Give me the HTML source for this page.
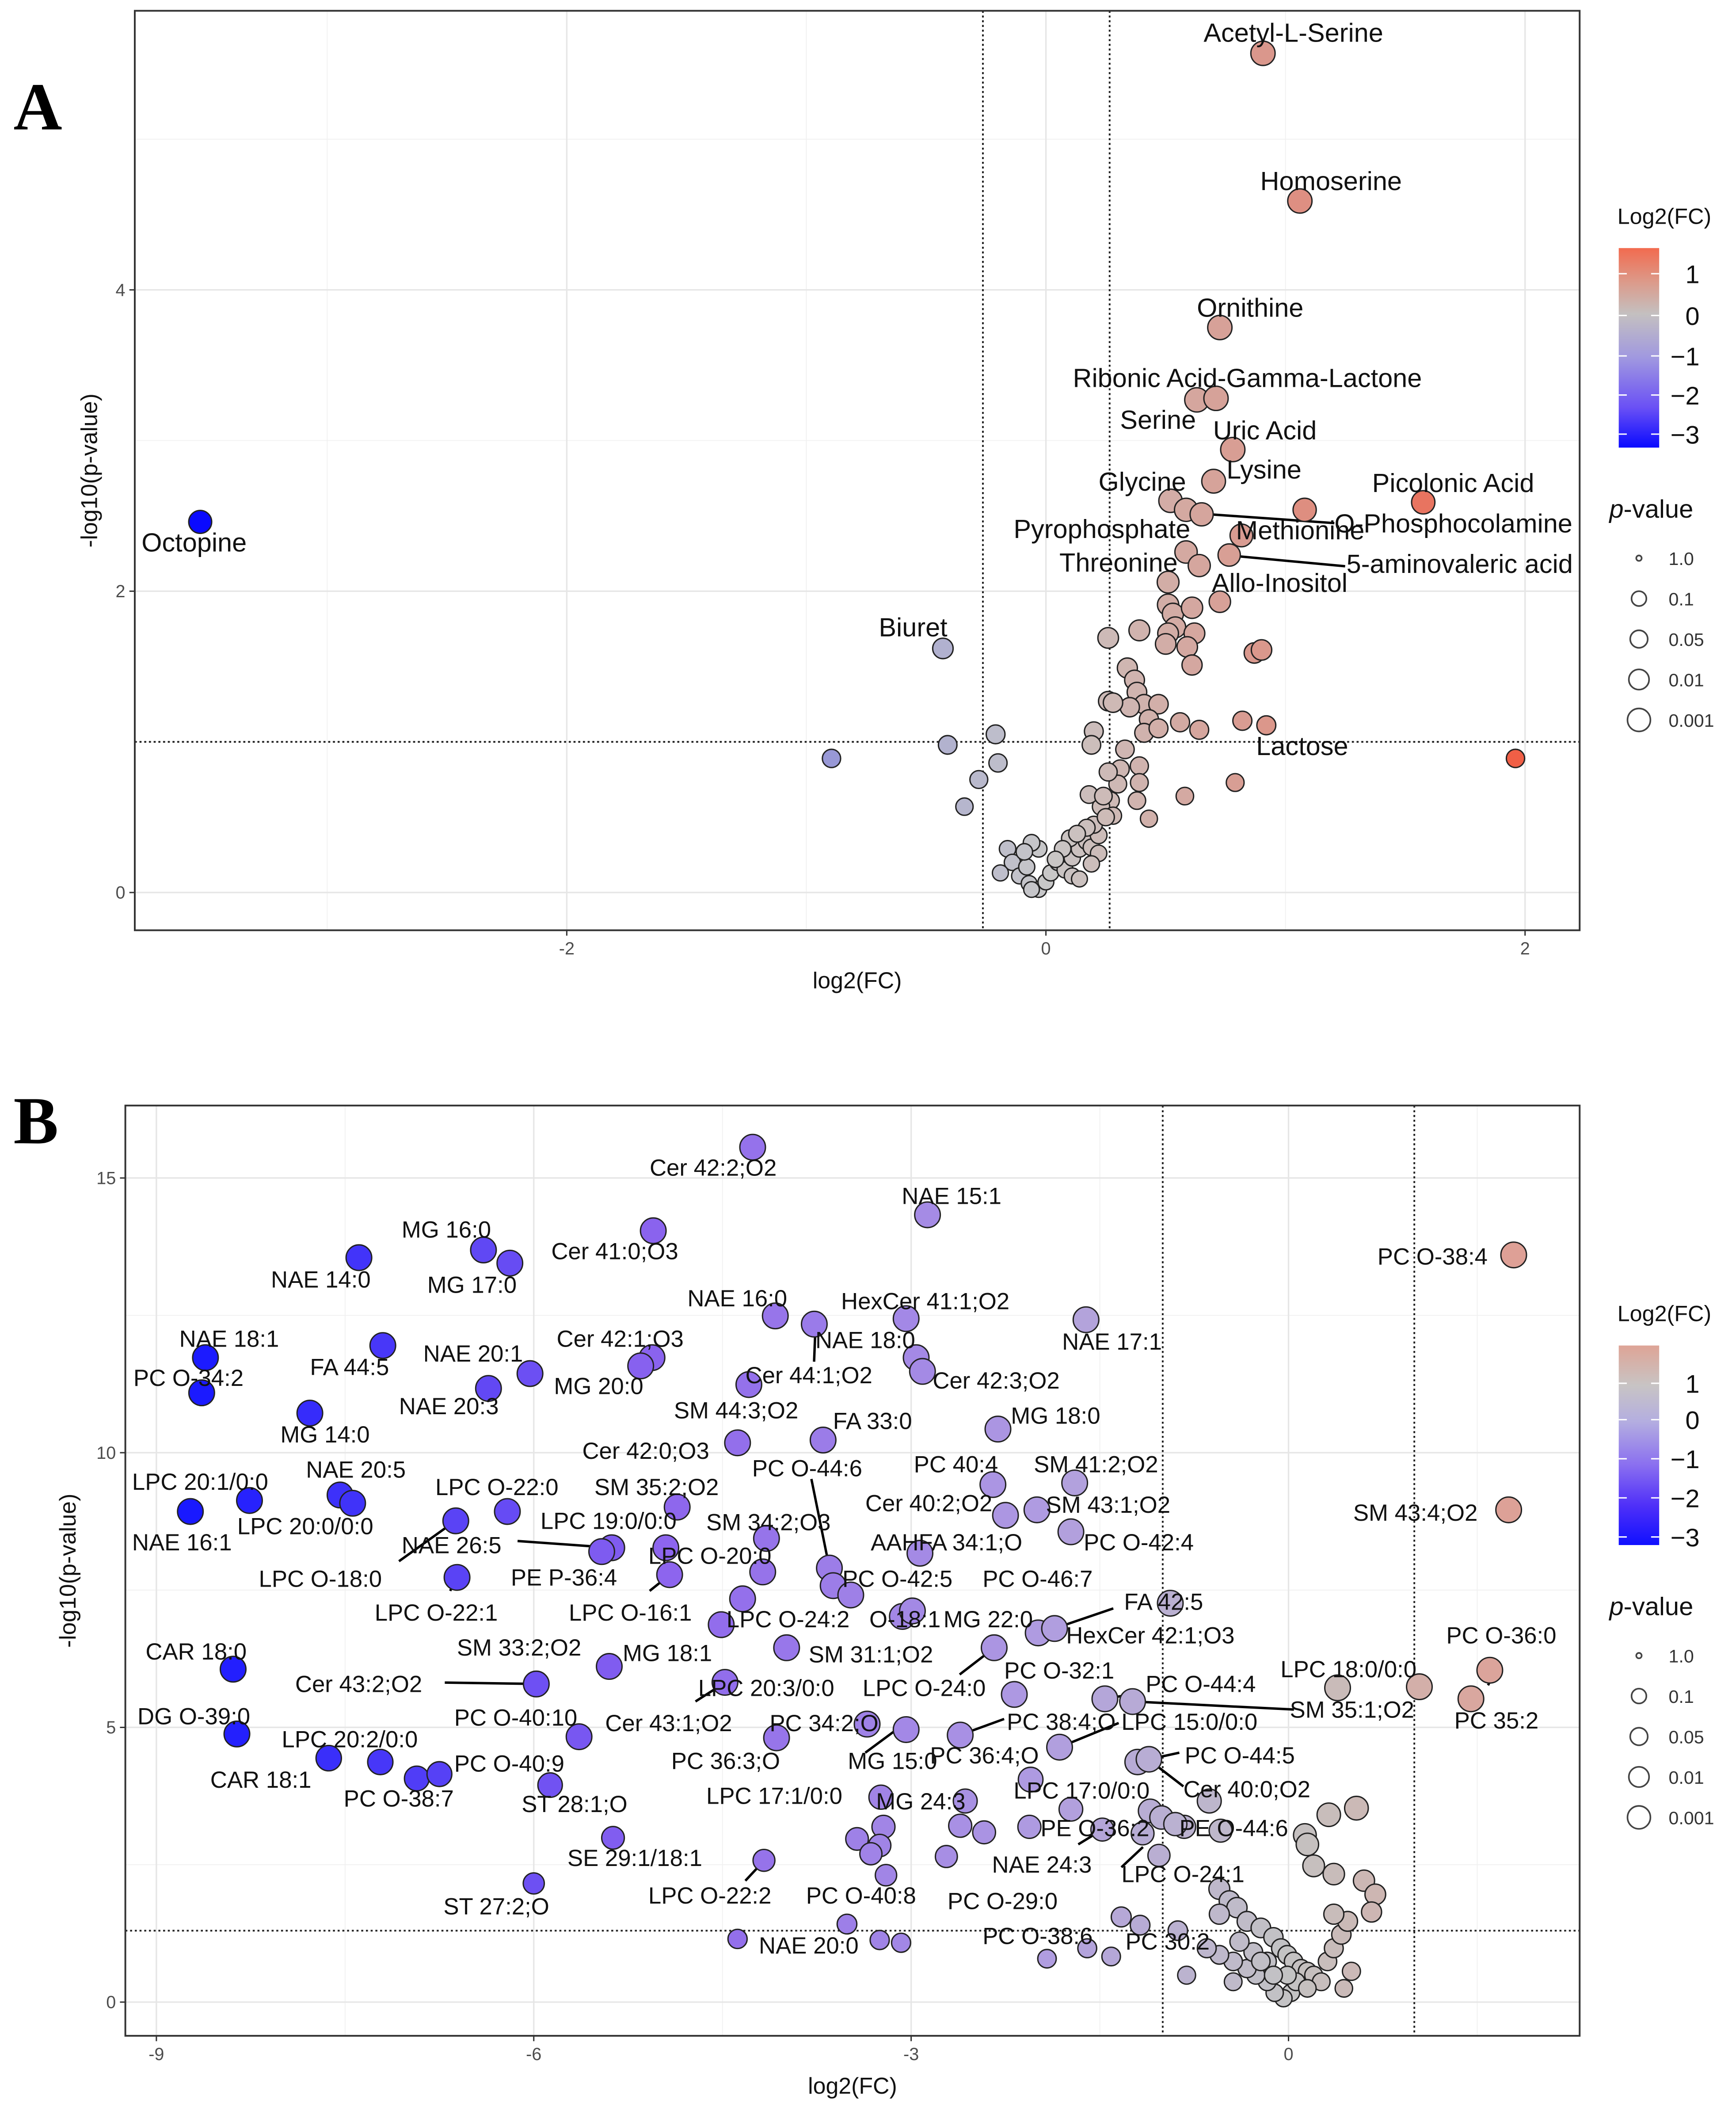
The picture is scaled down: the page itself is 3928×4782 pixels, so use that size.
<!DOCTYPE html>
<html><head><meta charset="utf-8"><style>
html,body{margin:0;padding:0;background:#fff}
svg{display:block}
text{font-family:"Liberation Sans",sans-serif}
</style></head><body>
<svg id="fig" width="3928" height="4782" viewBox="0 0 1288 1568" preserveAspectRatio="none" xmlns="http://www.w3.org/2000/svg">
<rect width="1288" height="1568" fill="#fff"/>
<g id="ga"></g>
<g id="gb"></g>
</svg>
<script>
// ---------- Panel A data ----------
const aX=[0.906,1.06,0.726,0.63,0.71,0.78,0.70,1.575,0.52,0.585,0.65,-3.53,1.08,0.816,0.585,0.64,0.765,0.726,-0.43,0.92,1.96,-0.895,
0.51,0.51,0.53,0.61,0.54,0.62,0.51,0.59,0.50,0.61,0.39,0.26,0.34,0.37,0.38,0.41,0.47,0.35,0.26,0.28,0.43,0.41,0.47,0.56,0.64,0.82,0.87,0.90,0.20,0.33,0.31,0.39,0.39,0.30,0.27,0.23,0.18,0.38,0.43,0.58,0.79,0.19,0.26,0.28,
-0.41,-0.21,-0.20,-0.28,-0.34,-0.16,-0.14,-0.11,-0.08,-0.07,-0.03,0.0,0.02,0.05,0.08,0.11,0.14,0.17,0.19,0.22,0.20,0.25,0.17,0.10,0.07,0.04,-0.03,-0.06,-0.09,-0.19,-0.06,0.11,0.13,0.22,0.24,0.14,0.19];
const aY=[5.57,4.59,3.75,3.27,3.28,2.94,2.73,2.59,2.6,2.54,2.51,2.46,2.54,2.37,2.26,2.17,2.24,1.93,1.62,1.11,0.89,0.89,
2.06,1.91,1.85,1.89,1.76,1.72,1.72,1.63,1.65,1.51,1.74,1.69,1.49,1.41,1.33,1.25,1.25,1.23,1.27,1.26,1.15,1.06,1.09,1.13,1.08,1.14,1.59,1.61,1.07,0.95,0.82,0.84,0.73,0.72,0.61,0.57,0.65,0.61,0.49,0.64,0.73,0.98,0.80,0.51,
0.98,1.05,0.86,0.75,0.57,0.29,0.20,0.11,0.17,0.06,0.02,0.07,0.13,0.20,0.15,0.23,0.29,0.34,0.30,0.38,0.45,0.50,0.43,0.36,0.29,0.22,0.29,0.33,0.27,0.13,0.02,0.11,0.39,0.26,0.64,0.09,0.19];
const aXTicks=[-2,0,2];
const aYTicks=[0,2,4];
const aLabels=[["Acetyl-L-Serine",893,31],["Homoserine",935,141],["Ornithine",888,235],["Ribonic Acid-Gamma-Lactone",796,287],["Serine",831,318],["Uric Acid",900,326],["Lysine",910,355],["Glycine",815,364],["Picolonic Acid",1018,365],["O-Phosphocolamine",990,395],["Pyrophosphate",752,399],["Methionine",917,400],["Threonine",786,424],["5-aminovaleric acid",999,425],["Allo-Inositol",899,439],["Biuret",652,472],["Lactose",932,560],["Octopine",105,409]];
// ---------- Panel B data ----------
const bX=[-4.26,-2.87,-5.05,-6.40,-6.19,-7.39,1.79,-4.08,-3.77,-3.04,-1.61,-2.96,-2.91,-5.06,-5.15,-7.20,-6.03,-8.61,-8.64,-4.29,-6.36,-7.78,-2.31,-3.70,-4.38,-2.35,-1.70,-7.54,-7.44,-8.26,-8.73,-4.86,-2.25,-2.00,1.75,-6.21,-6.62,-5.38,-5.46,-4.95,-4.15,-2.93,-1.73,-4.92,-4.18,-3.65,-3.62,-3.48,-6.61,-4.34,-4.51,-3.99,-3.07,-2.99,-0.94,-1.99,-1.86,-2.34,-8.39,-5.98,-5.40,-4.48,-2.18,0.39,1.04,1.60,1.45,-1.46,-1.24,-8.36,-3.35,-3.04,-2.61,-4.07,-5.64,-7.63,-7.22,-6.93,-6.75,-5.87,-1.82,-1.20,-1.11,-2.05,-0.63,0.54,0.32,-3.24,-2.57,-1.73,-1.10,-1.01,-0.83,-0.90,-0.54,-2.61,-2.42,-2.06,-1.48,-1.16,-3.22,-3.43,-3.25,-3.32,-5.37,-4.17,-2.72,-1.03,-3.20,-6.00,-3.51,-4.38,-3.25,-3.08,-1.92,-1.60,-1.41,-1.33,-1.18,-0.88,-0.81,
0.13,0.15,0.20,0.36,0.60,0.69,0.66,-0.55,-0.47,-0.41,-0.55,-0.33,-0.22,-0.12,-0.06,-0.01,0.04,0.10,0.15,0.20,0.26,0.31,0.36,0.42,0.47,0.50,0.44,0.02,-0.04,-0.11,-0.17,-0.26,-0.33,-0.44,-0.55,-0.65,-0.44,-0.28,-0.17,0.06,0.15,-0.01,-0.12,-0.22,-0.39,0.36];
const bY=[15.56,14.33,14.04,13.69,13.45,13.55,13.60,12.49,12.34,12.44,12.42,11.73,11.48,11.73,11.58,11.95,11.44,11.73,11.09,11.24,11.17,10.72,10.43,10.23,10.18,9.42,9.45,9.23,9.08,9.13,8.93,9.01,8.86,8.96,8.96,8.93,8.76,8.27,8.20,8.27,8.44,8.17,8.56,7.78,7.83,7.90,7.58,7.41,7.73,7.34,6.87,6.45,7.02,7.12,7.26,6.72,6.80,6.45,6.06,5.79,6.11,5.82,5.60,5.72,5.74,6.04,5.52,5.52,5.47,4.88,5.06,4.96,4.86,4.81,4.83,4.44,4.37,4.07,4.15,3.95,4.64,4.37,4.42,4.05,3.66,3.53,3.41,3.73,3.66,3.51,3.48,3.36,3.19,3.24,3.12,3.21,3.09,3.19,3.14,3.07,3.19,2.97,2.85,2.70,2.99,2.58,2.65,2.67,2.31,2.16,1.42,1.15,1.13,1.08,0.79,0.98,0.83,1.55,1.40,1.30,0.49,
3.04,2.87,2.48,2.33,2.21,1.96,1.64,2.06,1.84,1.72,1.60,1.47,1.35,1.18,0.98,0.86,0.74,0.61,0.56,0.49,0.37,0.74,0.98,1.23,1.47,0.56,0.25,0.17,0.07,0.17,0.37,0.49,0.61,0.74,0.86,0.98,0.37,0.91,0.74,0.37,0.25,0.49,0.49,0.74,1.10,1.60];
const bXTicks=[-9,-6,-3,0];
const bYTicks=[0,5,10,15];
const bLabels=[["Cer 42:2;O2",482,872],["NAE 15:1",669,893],["Cer 41:0;O3",409,934],["MG 16:0",298,918],["MG 17:0",317,959],["NAE 14:0",201,955],["PC O-38:4",1022,938],["NAE 16:0",510,969],["HexCer 41:1;O2",624,971],["NAE 18:0",605,1000],["NAE 17:1",788,1001],["Cer 42:1;O3",413,999],["NAE 18:1",133,999],["FA 44:5",230,1020],["NAE 20:1",314,1010],["PC O-34:2",99,1028],["Cer 44:1;O2",553,1026],["Cer 42:3;O2",692,1030],["MG 20:0",411,1034],["NAE 20:3",296,1049],["MG 14:0",208,1070],["SM 44:3;O2",500,1052],["FA 33:0",618,1060],["MG 18:0",750,1056],["Cer 42:0;O3",432,1082],["PC O-44:6",558,1095],["PC 40:4",678,1092],["SM 41:2;O2",767,1092],["NAE 20:5",227,1096],["LPC 20:1/0:0",98,1105],["LPC O-22:0",323,1109],["SM 35:2;O2",441,1109],["Cer 40:2;O2",642,1121],["SM 43:1;O2",776,1122],["SM 43:4;O2",1004,1128],["LPC 20:0/0:0",176,1138],["NAE 16:1",98,1150],["LPC 19:0/0:0",401,1134],["SM 34:2;O3",524,1135],["NAE 26:5",298,1152],["LPC O-20:0",481,1160],["AAHFA 34:1;O",646,1150],["PC O-42:4",804,1150],["LPC O-18:0",192,1177],["PE P-36:4",379,1176],["PC O-42:5",625,1177],["PC O-46:7",729,1177],["LPC O-22:1",278,1202],["LPC O-16:1",422,1202],["LPC O-24:2",539,1207],["O-18:1",645,1207],["MG 22:0",700,1207],["FA 42:5",834,1194],["HexCer 42:1;O3",791,1219],["PC O-36:0",1073,1219],["SM 33:2;O2",339,1228],["MG 18:1",462,1232],["SM 31:1;O2",600,1233],["CAR 18:0",108,1231],["LPC 18:0/0:0",950,1244],["Cer 43:2;O2",219,1255],["LPC 20:3/0:0",518,1258],["LPC O-24:0",640,1258],["PC O-32:1",745,1245],["PC O-44:4",850,1255],["SM 35:1;O2",957,1274],["PC 35:2",1079,1282],["DG O-39:0",102,1279],["PC O-40:10",337,1280],["Cer 43:1;O2",449,1284],["PC 34:2;O",571,1284],["PC 38:4;O",747,1283],["LPC 15:0/0:0",832,1283],["LPC 20:2/0:0",209,1296],["PC O-40:9",337,1314],["PC 36:3;O",498,1312],["MG 15:0",629,1312],["PC 36:4;O",690,1308],["PC O-44:5",879,1308],["CAR 18:1",156,1326],["PC O-38:7",255,1340],["ST 28:1;O",387,1344],["LPC 17:1/0:0",524,1338],["MG 24:3",650,1342],["LPC 17:0/0:0",752,1334],["Cer 40:0;O2",878,1333],["PE O-36:2",772,1362],["PE O-44:6",875,1362],["SE 29:1/18:1",421,1384],["NAE 24:3",736,1389],["LPC O-24:1",832,1396],["ST 27:2;O",329,1420],["LPC O-22:2",481,1412],["PC O-40:8",598,1412],["PC O-29:0",703,1416],["PC O-38:6",729,1442],["PC 30:2",835,1446],["NAE 20:0",563,1449]];

const NS="http://www.w3.org/2000/svg";
function mk(tag,attrs,parent){const e=document.createElementNS(NS,tag);for(const k in attrs)e.setAttribute(k,attrs[k]);parent.appendChild(e);return e;}
function lerp(a,b,t){return a.map((v,i)=>Math.round(v+(b[i]-v)*Math.max(0,Math.min(1,t))));}
function colA(x){return 'rgb('+(x>=0?lerp([200,200,200],[240,95,70],x/1.96):lerp([200,200,200],[10,10,255],-x/3.53)).join(',')+')';}
function colB(x){let c;if(x>=0)c=lerp([195,195,195],[222,160,150],x/1.8);else if(x>-2)c=lerp([195,195,195],[175,155,225],-x/2);else if(x>-5)c=lerp([175,155,225],[140,100,238],(-x-2)/3);else c=lerp([140,100,238],[25,25,255],(-x-5)/3.7);return 'rgb('+c.join(',')+')';}

function panel(g,cfg){
  const L=cfg.L,R=cfg.R,T=cfg.T,B=cfg.B;
  const sx=v=>cfg.x0+v*cfg.kx, sy=v=>cfg.y0-v*cfg.ky;
  mk('rect',{x:L,y:T,width:R-L,height:B-T,fill:'#fff'},g);
  cfg.minorX.forEach(v=>{const l=mk('line',{x1:sx(v),x2:sx(v),y1:T,y2:B,stroke:'#f0f0f0','stroke-width':0.6},g);});
  cfg.minorY.forEach(v=>{const l=mk('line',{x1:L,x2:R,y1:sy(v),y2:sy(v),stroke:'#f0f0f0','stroke-width':0.6},g);});
  cfg.xt.forEach(v=>{const l=mk('line',{x1:sx(v),x2:sx(v),y1:T,y2:B,stroke:'#e6e6e6','stroke-width':1.1},g);
    mk('line',{x1:sx(v),x2:sx(v),y1:B,y2:B+4,stroke:'#333','stroke-width':1},g);
    const t=mk('text',{x:sx(v),y:B+18,'font-size':13,fill:'#4d4d4d','text-anchor':'middle'},g);t.textContent=v;});
  cfg.yt.forEach(v=>{const l=mk('line',{x1:L,x2:R,y1:sy(v),y2:sy(v),stroke:'#e6e6e6','stroke-width':1.1},g);
    mk('line',{x1:L-4,x2:L,y1:sy(v),y2:sy(v),stroke:'#333','stroke-width':1},g);
    const t=mk('text',{x:L-7,y:sy(v)+4.5,'font-size':13,fill:'#4d4d4d','text-anchor':'end'},g);t.textContent=v;});
  cfg.vlines.forEach(v=>{const l=mk('line',{x1:sx(v),x2:sx(v),y1:T,y2:B,stroke:'#222','stroke-width':1.3,'stroke-dasharray':'1.5,2'},g);});
  const h=mk('line',{x1:L,x2:R,y1:sy(cfg.hline),y2:sy(cfg.hline),stroke:'#222','stroke-width':1.3,'stroke-dasharray':'1.5,2'},g);
  cfg.leaders.forEach(p=>{mk('line',{x1:p[0],y1:p[1],x2:p[2],y2:p[3],stroke:'#000','stroke-width':1.8},g);});
  for(let i=0;i<cfg.X.length;i++){
    const c=mk('circle',{cx:sx(cfg.X[i]),cy:sy(cfg.Y[i]),r:cfg.rad(cfg.Y[i]),fill:cfg.col(cfg.X[i]),stroke:'#222','stroke-width':1},g);
    
    
  }
  cfg.labels.forEach(a=>{const t=mk('text',{x:a[1],y:a[2],'font-size':cfg.fs,fill:'#111'},g);t.textContent=a[0];});
  mk('rect',{x:L,y:T,width:R-L,height:B-T,fill:'none',stroke:'#333','stroke-width':1.3},g);
  let t=mk('text',{x:(L+R)/2,y:B+43,'font-size':17,fill:'#111','text-anchor':'middle'},g);t.textContent='log2(FC)';
  t=mk('text',{x:0,y:0,'font-size':17,fill:'#111','text-anchor':'middle',transform:'translate('+cfg.ytx+','+(T+B)/2+') rotate(-90)'},g);t.textContent='-log10(p-value)';
  t=mk('text',{x:10,y:cfg.letterY,'font-size':50,'font-weight':'bold',fill:'#000'},g);t.textContent=cfg.letter;t.style.fontFamily='"Liberation Serif",serif';
  const ly=cfg.legY, id='grad'+cfg.letter;
  const defs=mk('defs',{},g);const gr=mk('linearGradient',{id:id,x1:0,y1:0,x2:0,y2:1},defs);
  cfg.stops.forEach(s=>mk('stop',{offset:s[0],'stop-color':s[1]},gr));
  t=mk('text',{x:1200,y:ly,'font-size':16.5,fill:'#111'},g);t.textContent='Log2(FC)';
  const cb=mk('rect',{x:1201,y:ly+18,width:30,height:148,fill:'url(#'+id+')'},g);
  cfg.cbTicks.forEach(k=>{mk('line',{x1:1201,x2:1207,y1:k[1],y2:k[1],stroke:'#fff','stroke-width':1},g);mk('line',{x1:1225,x2:1231,y1:k[1],y2:k[1],stroke:'#fff','stroke-width':1},g);
    const tt=mk('text',{x:1261,y:k[1]+7,'font-size':19,fill:'#111','text-anchor':'end'},g);tt.textContent=k[0];});
  const py=ly+218;
  t=mk('text',{x:1194,y:py,'font-size':19,fill:'#111'},g);t.innerHTML='<tspan font-style="italic">p</tspan>-value';
  [['1.0',2],['0.1',5.5],['0.05',6.5],['0.01',7.5],['0.001',8.5]].forEach((s,i)=>{const cy=py+30+i*30;
    const c=mk('circle',{cx:1216,cy:cy,r:s[1],fill:'none',stroke:'#444','stroke-width':1.2},g);
    const tt=mk('text',{x:1238,y:cy+5,'font-size':13.5,fill:'#333'},g);tt.textContent=s[0];});
}

panel(document.getElementById('ga'),{L:100,R:1172,T:8,B:690,x0:776,kx:177.75,y0:662,ky:111.75,
  xt:aXTicks,yt:aYTicks,minorX:[-3,-1,1],minorY:[1,3,5],vlines:[-0.263,0.266],hline:1,
  X:aX,Y:aY,col:colA,rad:y=>Math.min(9,5.8+1.1*y),labels:aLabels,fs:19.5,
  leaders:[[891,381,990,388],[912,412,998,420]],ytx:72,letter:'A',letterY:96,legY:166,
  stops:[[0,'#f26b4f'],[0.17,'#dc9a8a'],[0.33,'#c4c0c0'],[0.55,'#a098e0'],[0.8,'#6a50f5'],[1,'#0a0aff']],
  cbTicks:[['1',203],['0',234],['\u22121',264],['\u22122',293],['\u22123',322]]});

panel(document.getElementById('gb'),{L:93,R:1172,T:820,B:1510,x0:956,kx:93.33,y0:1485,ky:40.75,
  xt:bXTicks,yt:bYTicks,minorX:[-7.5,-4.5,-1.5,1.5],minorY:[2.5,7.5,12.5],vlines:[-1,1],hline:1.3,
  X:bX,Y:bY,col:colB,rad:y=>Math.min(9.5,6.3+0.7*y),labels:bLabels,fs:17.3,
  leaders:[[296,1158,338,1128],[384,1143,454,1148],[334,1180,339,1170],[602,1097,618,1176],[330,1248,398,1249],[1104,1250,1112,1235],[605,985,604,1010],[482,1180,497,1168],[565,1175,566,1166],[578,1225,584,1222],[516,1262,538,1248],[642,1300,665,1283],[712,1287,745,1275],[712,1242,738,1222],[826,1193,782,1208],[832,1258,820,1260],[840,1262,960,1268],[786,1296,830,1278],[852,1305,875,1300],[852,1305,878,1325],[862,1348,875,1356],[818,1357,800,1368],[848,1370,832,1385],[567,1380,553,1395]],
  ytx:56,letter:'B',letterY:848,legY:980,
  stops:[[0,'#dea496'],[0.2,'#c8c4c4'],[0.38,'#b4aee0'],[0.6,'#8a6ff0'],[0.8,'#5030f8'],[1,'#1010ff']],
  cbTicks:[['1',1026],['0',1053],['\u22121',1082],['\u22122',1111],['\u22123',1140]]});
</script>
</body></html>
